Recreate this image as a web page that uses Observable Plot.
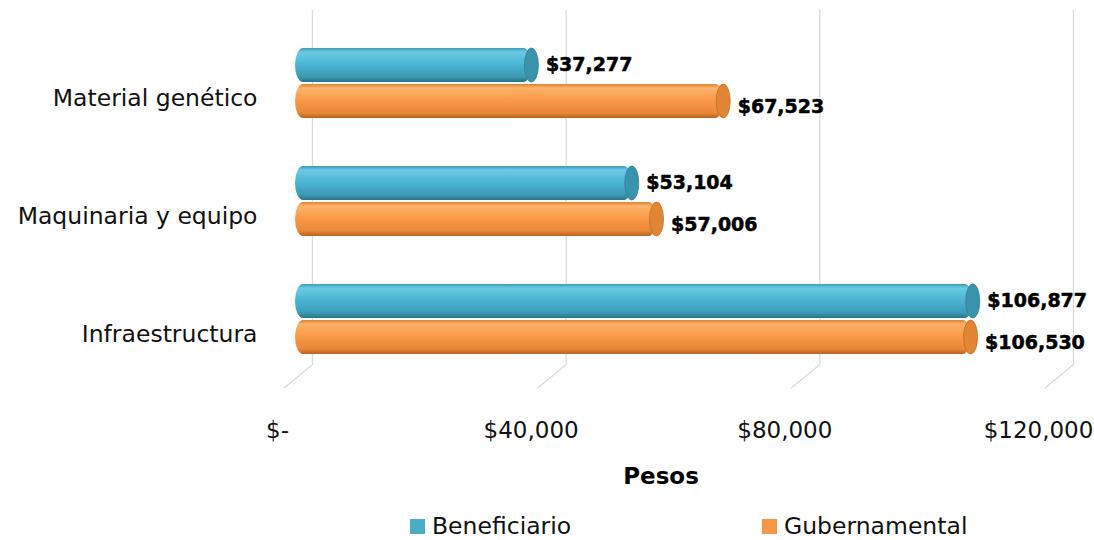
<!DOCTYPE html>
<html>
<head>
<meta charset="utf-8">
<script src="https://cdn.jsdelivr.net/npm/d3@7"></script>
<script src="https://cdn.jsdelivr.net/npm/@observablehq/plot@0.6"></script>
<style>
  html, body { margin: 0; padding: 0; background: #fff; }
  body { width: 1094px; height: 540px; overflow: hidden; font-family: "DejaVu Sans", sans-serif; }
  #legend { position: relative; height: 35px; font-size: 23.5px; color: #111; margin-top: 7px; }
  .item { position: absolute; top: 0; display: flex; align-items: center; }
  .sw { width: 15px; height: 15px; margin-right: 7px; }
</style>
</head>
<body>
<svg width="0" height="0" style="position:absolute">
  <defs>
    <linearGradient id="gBen" x1="0" y1="0" x2="0" y2="1">
      <stop offset="0" stop-color="#3b9bb5"/>
      <stop offset="0.12" stop-color="#6ccbe4"/>
      <stop offset="0.45" stop-color="#4db7d5"/>
      <stop offset="0.85" stop-color="#3b9ab4"/>
      <stop offset="1" stop-color="#2a7186"/>
    </linearGradient>
    <linearGradient id="gGob" x1="0" y1="0" x2="0" y2="1">
      <stop offset="0" stop-color="#e0822f"/>
      <stop offset="0.12" stop-color="#fdb36d"/>
      <stop offset="0.45" stop-color="#f99b49"/>
      <stop offset="0.85" stop-color="#e98838"/>
      <stop offset="1" stop-color="#b66320"/>
    </linearGradient>
  </defs>
</svg>
<div id="chart"></div>
<div id="legend"></div>
<script>
const categories = ["Material genético", "Maquinaria y equipo", "Infraestructura"];
const seriesNames = ["Beneficiario", "Gubernamental"];
const beneficiario = [37277, 53104, 106877];
const gubernamental = [67523, 57006, 106530];
const xTicks = [0, 40000, 80000, 120000];
const xTickLabels = ["$-", "$40,000", "$80,000", "$120,000"];
const xTitle = "Pesos";
const seriesColors = ["#4BACC6", "#F79646"];

const fmt = d => "$" + d3.format(",")(d);
const rowsB = categories.map((c, i) => ({category: c, value: beneficiario[i]}));
const rowsG = categories.map((c, i) => ({category: c, value: gubernamental[i]}));
const tickRows = xTicks.map((t, i) => ({t, label: xTickLabels[i]}));
const gridColor = "#d9d9d9";

const floor = (index, scales, values, dimensions) => {
  const g = d3.create("svg:g").attr("stroke", gridColor).attr("stroke-width", 1.3);
  const yb = dimensions.height - dimensions.marginBottom;
  for (const t of xTicks) {
    const x = scales.x(t);
    g.append("line").attr("x1", x + 17).attr("y1", yb).attr("x2", x - 11).attr("y2", yb + 23);
  }
  return g.node();
};

const chart = Plot.plot({
  width: 1094,
  height: 505,
  marginLeft: 295,
  marginRight: 38,
  marginTop: 10,
  marginBottom: 140,
  style: {fontFamily: "DejaVu Sans, sans-serif", color: "#111", background: "#fff"},
  x: {domain: [0, 120000], axis: null},
  y: {domain: categories, axis: null, paddingInner: 0.41, paddingOuter: 0.203, align: 0.77},
  marks: [
    Plot.ruleX(xTicks, {x: d => d, dx: 17, stroke: gridColor, strokeWidth: 1.3}),
    floor,
    Plot.barX(rowsB, {x: "value", y: "category", insetBottom: 36, fill: "url(#gBen)", rx: 8, ry: 17}),
    Plot.barX(rowsG, {x: "value", y: "category", insetTop: 36, fill: "url(#gGob)", rx: 8, ry: 17}),
    Plot.barX(rowsB, {x1: "value", x2: "value", y: "category", insetBottom: 36, insetLeft: -7, insetRight: -7, rx: 7, ry: 17, fill: "#3a93ac", stroke: "#2f7f95", strokeWidth: 0.8}),
    Plot.barX(rowsG, {x1: "value", x2: "value", y: "category", insetTop: 36, insetLeft: -7, insetRight: -7, rx: 7, ry: 17, fill: "#e18634", stroke: "#c46c22", strokeWidth: 0.8}),
    Plot.text(rowsB, {x: "value", y: "category", text: d => fmt(d.value), dx: 14, dy: -19, textAnchor: "start", fontSize: 19, fontWeight: "bold", fill: "#000", stroke: "#000", strokeWidth: 0.5}),
    Plot.text(rowsG, {x: "value", y: "category", text: d => fmt(d.value), dx: 14, dy: 23, textAnchor: "start", fontSize: 19, fontWeight: "bold", fill: "#000", stroke: "#000", strokeWidth: 0.5}),
    Plot.text(categories, {y: d => d, frameAnchor: "left", dx: -38, dy: 15, textAnchor: "end", fontSize: 23.5, fill: "#111"}),
    Plot.text(tickRows, {x: "t", text: "label", frameAnchor: "bottom", dy: 72, dx: -18, fontSize: 23, fill: "#111"}),
    Plot.text([xTitle], {frameAnchor: "bottom", dy: 118, dx: -15, fontSize: 23, fontWeight: "bold", fill: "#000"})
  ]
});
document.getElementById("chart").appendChild(chart);

const legend = document.getElementById("legend");
const legendX = [410, 762];
seriesNames.forEach((name, i) => {
  const item = document.createElement("div");
  item.className = "item";
  item.style.left = legendX[i] + "px";
  const sw = document.createElement("span");
  sw.className = "sw";
  sw.style.background = seriesColors[i];
  const tx = document.createElement("span");
  tx.textContent = name;
  item.appendChild(sw);
  item.appendChild(tx);
  legend.appendChild(item);
});
</script>
</body>
</html>
